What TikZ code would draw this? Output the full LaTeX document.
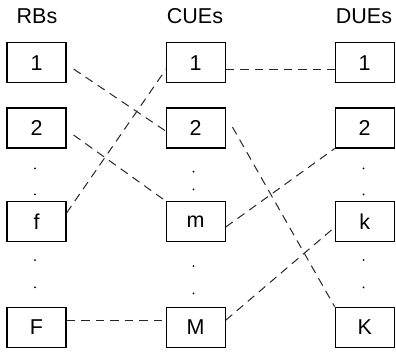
\documentclass[tikz,border=0pt]{standalone}
\usepackage{fontspec}
\setmainfont{Liberation Sans}
\begin{document}
\begin{tikzpicture}[x=1pt,y=-1pt,
  box/.style={draw=black, line width=1.1pt, minimum width=59pt, minimum height=40pt, inner sep=0pt, font=\fontsize{21.5}{25}\selectfont},
  head/.style={anchor=base, inner sep=0pt, font=\fontsize{21.5}{25}\selectfont},
  link/.style={draw=black!85, line width=1pt, dash pattern=on 8.5pt off 6pt},
  dotmark/.style={fill=black}]
\useasboundingbox (0,0) rectangle (396,351);
% headers
\node[head] (hR) at (37,23) {RBs};
\node[head] (hC) at (195,23) {CUEs};
\node[head] (hD) at (364,23) {DUEs};
% RBs
\node[box] (r1) at (36.5,62.7) {1};
\node[box] (r2) at (36.5,128) {2};
\node[box] (rf) at (36.5,221.5) {f};
\node[box] (rF) at (36.5,327.2) {F};
% CUEs
\node[box] (c1) at (195.7,62.7) {1};
\node[box] (c2) at (195.7,128) {2};
\node[box] (cm) at (195.7,221.5) {m};
\node[box] (cM) at (195.7,327.2) {M};
% DUEs
\node[box] (d1) at (364.7,62.7) {1};
\node[box] (d2) at (364.7,128) {2};
\node[box] (dk) at (364.7,221.5) {k};
\node[box] (dK) at (364.7,327.2) {K};
% dots
\foreach \y in {168.3,194.3,260,287.3} {
  \fill[dotmark] (35,\y) circle (1pt);
  \fill[dotmark] (363.5,\y) circle (1pt);
}
\foreach \y in {171.7,189.3,266,293.3} {
  \fill[dotmark] (193.5,\y) circle (1pt);
}
% links
\draw[link] ([shift={(7,6.3)}]r1.east) -- ([yshift=-3pt]c2.west);
\draw[link] ([shift={(7,7)}]r2.east) -- (cm.north west);
\draw[link] ([shift={(0,-8.5)}]rf.east) -- ([shift={(0,7)}]c1.west);
\draw[link] ([shift={(0,-6.3)}]rF.east) -- ([shift={(0,-6.3)}]cM.west);
\draw[link] ([shift={(0,6.7)}]c1.east) -- ([shift={(0,6.7)}]d1.west);
\draw[link] ([shift={(6.7,-1)}]c2.east) -- (dK.north west);
\draw[link] ([shift={(0,5.5)}]cm.east) -- (d2.south west);
\draw[link] ([shift={(0,-7)}]cM.east) -- ([shift={(0,5.8)}]dk.west);
\end{tikzpicture}
\end{document}
